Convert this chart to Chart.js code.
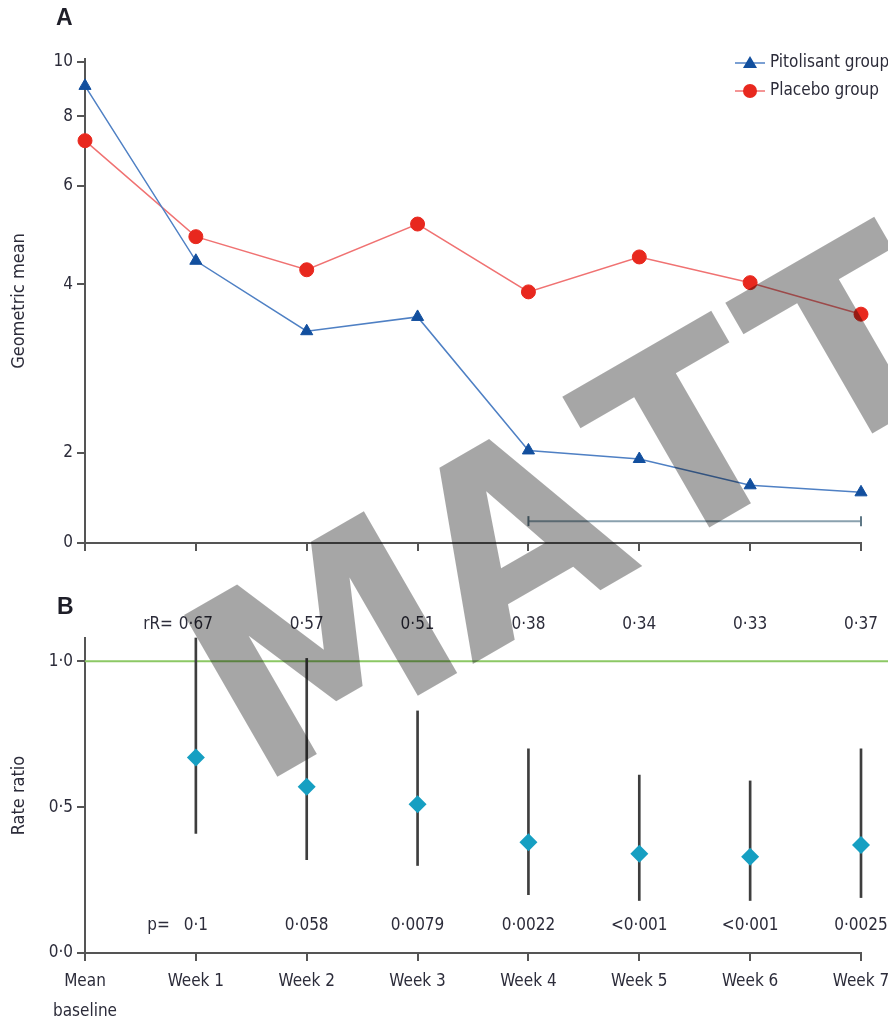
<!DOCTYPE html>
<html>
<head>
<meta charset="utf-8">
<script src="https://cdn.jsdelivr.net/npm/chart.js@4.4.1/dist/chart.umd.min.js"></script>
<style>
  html, body { margin: 0; padding: 0; background: #ffffff; }
  #wrap { position: relative; width: 888px; height: 1019px; overflow: hidden; }
  #cA { position: absolute; left: 0; top: 0; }
  #cB { position: absolute; left: 0; top: 560px; }
  #mark { position: absolute; left: 0; top: 0; pointer-events: none; }
</style>
</head>
<body>
<div id="wrap">
  <canvas id="cA" width="888" height="560"></canvas>
  <canvas id="cB" width="888" height="459"></canvas>
  <canvas id="mark" width="888" height="1019"></canvas>
</div>
<script>
// ---- data ----
const categories = [['Mean', 'baseline'], 'Week 1', 'Week 2', 'Week 3', 'Week 4', 'Week 5', 'Week 6', 'Week 7'];

// Panel A: geometric mean per group
const pitolisant = [9.06, 4.41, 3.30, 3.50, 2.02, 1.95, 1.75, 1.70];
const placebo    = [7.23, 4.87, 4.25, 5.13, 3.88, 4.48, 4.03, 3.54];
const geoTicks   = [0, 2, 4, 6, 8, 10];
const geoFloor   = 1.38;   // log axis is broken: its bottom is labelled 0
const geoCeil    = 10.12;
const bracketLevel = 1.51;
const bracketFrom  = 4;    // Week 4
const bracketTo    = 7;    // Week 7

// Panel B: rate ratio with 95% CI
const rateRatio = [null, 0.67, 0.57, 0.51, 0.38, 0.34, 0.33, 0.37];
const ciLow     = [null, 0.41, 0.32, 0.30, 0.20, 0.18, 0.18, 0.19];
const ciHigh    = [null, 1.08, 1.01, 0.83, 0.70, 0.61, 0.59, 0.70];
const pValues   = [null, '0·1', '0·058', '0·0079', '0·0022', '<0·001', '<0·001', '0·0025'];
const ratioTicks = [0, 0.5, 1.0];
const ratioRef   = 1.0;
const ratioMax   = 1.08;

// ---- styling ----
const FONT = '"DejaVu Sans Condensed", "Liberation Sans Narrow", "DejaVu Sans", sans-serif';
const INK = '#2c2c3a';
const AXIS = '#555555';
const dot = v => String(v).replace('.', '·');

Chart.defaults.font.family = FONT;
Chart.defaults.font.size = 17;
Chart.defaults.color = INK;

const axisGrid = { drawOnChartArea: false, drawTicks: true, tickLength: 8, color: AXIS, lineWidth: 2, offset: false };
const axisBorder = { display: true, color: AXIS, width: 2 };

// keep the plot box fixed regardless of how far edge labels stick out
const fixX = h => scale => { scale.height = h; scale.paddingLeft = 0; scale.paddingRight = 0; };
const fixY = w => scale => { scale.width = w; scale.paddingTop = 0; scale.paddingBottom = 0; };

// ---- panel A ----
const bracket = categories.map((_, i) => (i >= bracketFrom && i <= bracketTo) ? bracketLevel : null);
const bracketCaps = categories.map((_, i) => (i === bracketFrom || i === bracketTo) ? 5 : 0);

const panelAExtras = {
  id: 'panelAExtras',
  afterDraw(chart) {
    const ctx = chart.ctx;
    ctx.save();
    ctx.fillStyle = '#1e1e28';
    ctx.font = 'bold 23px "Liberation Sans", sans-serif';
    ctx.textBaseline = 'middle';
    ctx.textAlign = 'left';
    ctx.fillText('A', 56, 19);

    const items = [
      { text: 'Pitolisant group', ds: chart.data.datasets[0], shape: 'triangle' },
      { text: 'Placebo group', ds: chart.data.datasets[1], shape: 'circle' }
    ];
    items.forEach((it, i) => {
      const y = 63 + i * 28;
      ctx.strokeStyle = it.ds.borderColor;
      ctx.lineWidth = 1.5;
      ctx.beginPath(); ctx.moveTo(735, y); ctx.lineTo(765, y); ctx.stroke();
      ctx.fillStyle = it.ds.pointBackgroundColor;
      ctx.beginPath();
      if (it.shape === 'triangle') {
        ctx.moveTo(750, y - 7); ctx.lineTo(757, y + 5); ctx.lineTo(743, y + 5); ctx.closePath();
      } else {
        ctx.arc(750, y, 7, 0, Math.PI * 2);
      }
      ctx.fill();
      ctx.fillStyle = INK;
      ctx.font = '17px ' + FONT;
      ctx.fillText(it.text, 770, y);
    });
    ctx.restore();
  }
};

new Chart(document.getElementById('cA'), {
  type: 'line',
  data: {
    labels: categories,
    datasets: [
      {
        label: 'Pitolisant group', data: pitolisant,
        borderColor: '#4f80c4', borderWidth: 1.5,
        pointStyle: 'triangle', pointRadius: 7,
        pointBackgroundColor: '#124f9e', pointBorderColor: '#124f9e', pointBorderWidth: 1,
        clip: false, order: 1
      },
      {
        label: 'Placebo group', data: placebo,
        borderColor: '#f07272', borderWidth: 1.5,
        pointStyle: 'circle', pointRadius: 7,
        pointBackgroundColor: '#e8281e', pointBorderColor: '#e8281e', pointBorderWidth: 1,
        clip: false, order: 2
      },
      {
        label: 'bracket', data: bracket,
        borderColor: '#8aa1ae', borderWidth: 2,
        pointStyle: 'line', rotation: 90, pointRadius: bracketCaps,
        pointBorderColor: '#5f7886', pointBorderWidth: 2,
        spanGaps: false, clip: false, order: 3
      }
    ]
  },
  options: {
    responsive: false, animation: false, devicePixelRatio: 1,
    layout: { padding: { top: 59, right: 27, left: 0, bottom: 0 } },
    plugins: { legend: { display: false }, tooltip: { enabled: false } },
    scales: {
      x: {
        type: 'category', offset: false,
        grid: axisGrid, border: axisBorder,
        ticks: { display: false },
        afterFit: fixX(17)
      },
      y: {
        type: 'logarithmic', min: geoFloor, max: geoCeil,
        grid: axisGrid, border: axisBorder,
        ticks: {
          padding: 4, color: INK, font: { size: 17 },
          callback: v => (v <= geoFloor + 1e-9 ? '0' : String(v))
        },
        afterBuildTicks(scale) {
          scale.ticks = geoTicks.map(v => ({ value: v === 0 ? geoFloor : v }));
        },
        title: { display: true, text: 'Geometric mean', color: INK, font: { size: 18 }, padding: { top: 9, bottom: 0 } },
        afterFit: fixY(85)
      }
    }
  },
  plugins: [panelAExtras]
});

// ---- panel B ----
const ciBars = categories.map((_, i) => (ciLow[i] == null ? null : [ciLow[i], ciHigh[i]]));

const panelBExtras = {
  id: 'panelBExtras',
  beforeDatasetsDraw(chart) {
    // no-effect line at rate ratio 1, running out to the page edge
    const ctx = chart.ctx;
    const y = chart.scales.y.getPixelForValue(ratioRef);
    ctx.save();
    ctx.strokeStyle = '#8cc865';
    ctx.lineWidth = 2;
    ctx.beginPath();
    ctx.moveTo(chart.chartArea.left, y);
    ctx.lineTo(chart.width, y);
    ctx.stroke();
    ctx.restore();
  },
  afterDraw(chart) {
    const ctx = chart.ctx;
    const xs = chart.scales.x;
    ctx.save();
    ctx.fillStyle = '#1e1e28';
    ctx.font = 'bold 23px "Liberation Sans", sans-serif';
    ctx.textBaseline = 'middle';
    ctx.textAlign = 'left';
    ctx.fillText('B', 57, 48);

    ctx.fillStyle = INK;
    ctx.font = '17px ' + FONT;
    ctx.textAlign = 'center';
    let firstX = null;
    rateRatio.forEach((v, i) => {
      if (v == null) return;
      const x = xs.getPixelForValue(i);
      if (firstX === null) firstX = x;
      ctx.fillText(dot(v), x, 65);
      ctx.fillText(pValues[i], x, 366);
    });
    ctx.textAlign = 'right';
    ctx.fillText('rR=', firstX - 23, 65);
    ctx.fillText('p=', firstX - 26, 366);
    ctx.restore();
  }
};

new Chart(document.getElementById('cB'), {
  type: 'bar',
  data: {
    labels: categories,
    datasets: [
      {
        type: 'bar', label: '95% CI', data: ciBars,
        backgroundColor: '#3e3e3e', barThickness: 2, borderWidth: 0, clip: false, order: 2
      },
      {
        type: 'line', label: 'Rate ratio', data: rateRatio,
        showLine: false, pointStyle: 'rectRot', pointRadius: 9,
        pointBackgroundColor: '#169fc2', pointBorderColor: '#169fc2', pointBorderWidth: 0,
        clip: false, order: 1
      }
    ]
  },
  options: {
    responsive: false, animation: false, devicePixelRatio: 1,
    layout: { padding: { top: 78, right: 27, left: 0, bottom: 0 } },
    plugins: { legend: { display: false }, tooltip: { enabled: false } },
    scales: {
      x: {
        type: 'category', offset: false,
        grid: axisGrid, border: axisBorder,
        ticks: { padding: 6, color: INK, font: { size: 17, lineHeight: 1.75 }, maxRotation: 0, autoSkip: false },
        afterFit: fixX(66)
      },
      y: {
        type: 'linear', min: 0, max: ratioMax,
        grid: axisGrid, border: axisBorder,
        ticks: { padding: 4, color: INK, font: { size: 17 }, callback: v => dot(Number(v).toFixed(1)) },
        afterBuildTicks(scale) {
          scale.ticks = ratioTicks.map(v => ({ value: v }));
        },
        title: { display: true, text: 'Rate ratio', color: INK, font: { size: 18 }, padding: { top: 9, bottom: 0 } },
        afterFit: fixY(85)
      }
    }
  },
  plugins: [panelBExtras]
});

// ---- watermark across both panels ----
(function drawMark() {
  const c = document.getElementById('mark');
  const ctx = c.getContext('2d');
  ctx.save();
  ctx.translate(277, 777);
  ctx.rotate(-Math.PI / 6);
  ctx.font = 'bold 256px "DejaVu Sans", sans-serif';
  ctx.textBaseline = 'alphabetic';
  ctx.textAlign = 'left';
  ctx.fillStyle = 'rgba(0,0,0,0.35)';
  const letters = [['M', 0], ['A', 226], ['T', 437], ['T', 625]];
  letters.forEach(([ch, at]) => {
    const m = ctx.measureText(ch);
    ctx.fillText(ch, at + m.actualBoundingBoxLeft, 0);
  });
  ctx.restore();
})();
</script>
</body>
</html>
